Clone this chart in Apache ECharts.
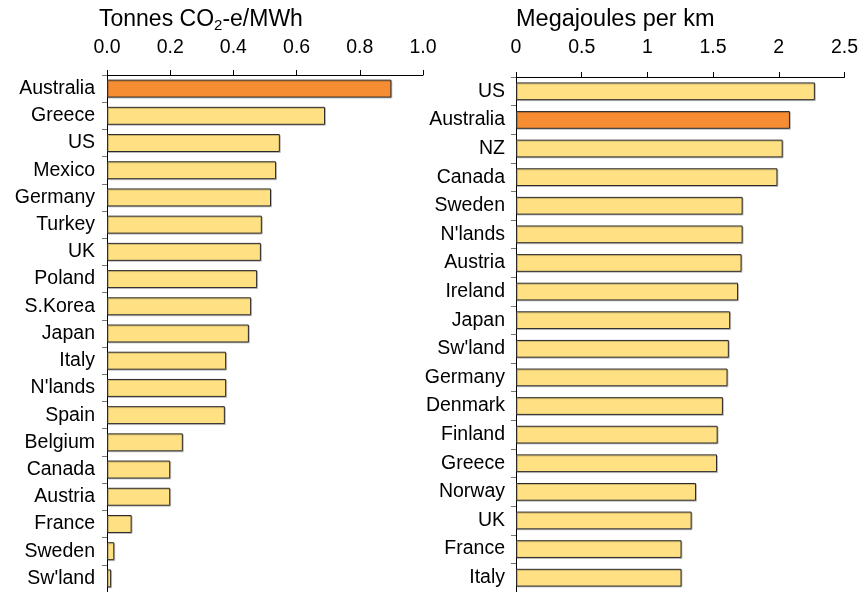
<!DOCTYPE html>
<html>
<head>
<meta charset="utf-8">
<script src="https://cdn.jsdelivr.net/npm/echarts@6/dist/echarts.min.js"></script>
<style>html,body{margin:0;padding:0;background:#fff}#c{width:861px;height:592px}</style>
</head>
<body>
<div id="c"></div>
<script>
var leftCategories = ['Australia','Greece','US','Mexico','Germany','Turkey','UK','Poland','S.Korea','Japan','Italy',"N'lands",'Spain','Belgium','Canada','Austria','France','Sweden',"Sw'land"];
var leftValues = [0.90,0.69,0.547,0.535,0.519,0.49,0.487,0.475,0.456,0.449,0.377,0.377,0.373,0.24,0.20,0.20,0.078,0.023,0.013];
var leftTicks = ['0.0','0.2','0.4','0.6','0.8','1.0'];

var rightCategories = ['US','Australia','NZ','Canada','Sweden',"N'lands",'Austria','Ireland','Japan',"Sw'land",'Germany','Denmark','Finland','Greece','Norway','UK','France','Italy'];
var rightValues = [2.275,2.085,2.03,1.99,1.725,1.725,1.717,1.69,1.63,1.62,1.61,1.575,1.535,1.53,1.37,1.337,1.26,1.26];

var highlight = 'Australia';
var FONT = 'Liberation Sans, Arial, sans-serif';
var ORANGE = '#F68D33', YELLOW = '#FFE083';

function barStyle(cats) {
  return {
    color: function (p) { return cats[p.dataIndex] === highlight ? ORANGE : YELLOW; },
    borderColor: '#2a2a2a',
    borderWidth: 1,
    shadowColor: 'rgba(0,0,0,0.2)',
    shadowOffsetX: 1,
    shadowOffsetY: 1,
    shadowBlur: 0
  };
}

var chart = echarts.init(document.getElementById('c'));
chart.setOption({
  animation: false,
  textStyle: { fontFamily: FONT },
  title: [
    { text: 'Tonnes CO{sub|2}-e/MWh', left: 94, top: 2,
      textStyle: { fontFamily: FONT, fontSize: 23, fontWeight: 'normal', color: '#000',
        rich: { sub: { fontFamily: FONT, fontSize: 15, verticalAlign: 'bottom', padding: [11,0,0,0], color: '#000' } } } },
    { text: 'Megajoules per km', left: 511, top: 3,
      textStyle: { fontFamily: FONT, fontSize: 23.5, fontWeight: 'normal', color: '#000' } }
  ],
  grid: [
    { left: 107, width: 316, top: 75, height: 517, containLabel: false },
    { left: 516, width: 330, top: 77, height: 515, containLabel: false }
  ],
  xAxis: [
    { gridIndex: 0, type: 'value', position: 'top', min: 0, max: 1, interval: 0.2,
      axisLine: { show: true, lineStyle: { color: '#000', width: 1 } },
      axisTick: { show: true, inside: false, length: 5, lineStyle: { color: '#000' } },
      splitLine: { show: false },
      axisLabel: { margin: 17, fontSize: 19.5, color: '#000', fontFamily: FONT,
        formatter: function (v) { return leftTicks[Math.round(v / 0.2)]; } } },
    { gridIndex: 1, type: 'value', position: 'top', min: 0, max: 2.5, interval: 0.5,
      axisLine: { show: true, lineStyle: { color: '#000', width: 1 } },
      axisTick: { show: true, inside: false, length: 5, lineStyle: { color: '#000' } },
      splitLine: { show: false },
      axisLabel: { margin: 19, fontSize: 19.5, color: '#000', fontFamily: FONT } }
  ],
  yAxis: [
    { gridIndex: 0, type: 'category', data: leftCategories, inverse: true,
      axisLine: { show: true, lineStyle: { color: '#000' } },
      axisTick: { show: true, length: 5, lineStyle: { color: '#777' } },
      axisLabel: { margin: 12, fontSize: 19.5, color: '#000', fontFamily: FONT } },
    { gridIndex: 1, type: 'category', data: rightCategories, inverse: true,
      axisLine: { show: true, lineStyle: { color: '#000' } },
      axisTick: { show: true, length: 5, lineStyle: { color: '#777' } },
      axisLabel: { margin: 11, fontSize: 19.5, color: '#000', fontFamily: FONT } }
  ],
  series: [
    { type: 'bar', xAxisIndex: 0, yAxisIndex: 0, data: leftValues, barWidth: '66%',
      itemStyle: barStyle(leftCategories) },
    { type: 'bar', xAxisIndex: 1, yAxisIndex: 1, data: rightValues, barWidth: '62%',
      itemStyle: barStyle(rightCategories) }
  ]
});
</script>
</body>
</html>
